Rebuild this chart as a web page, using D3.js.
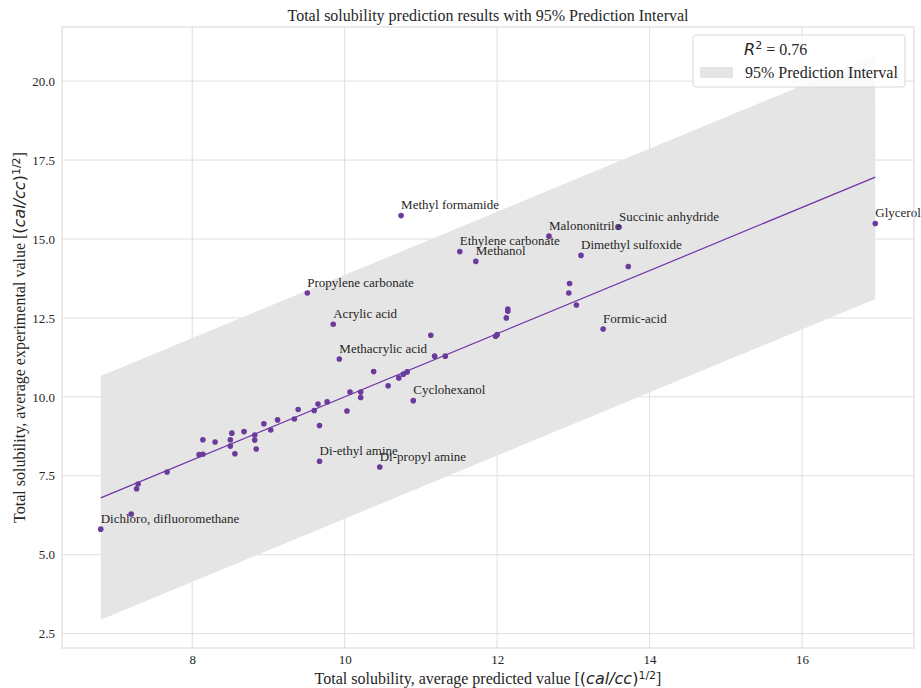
<!DOCTYPE html>
<html>
<head>
<meta charset="utf-8">
<script src="https://cdn.jsdelivr.net/npm/d3@7"></script>
<style>
  html, body { margin: 0; padding: 0; background: #fff; }
  svg { display: block; }
  .serif { font-family: "Liberation Serif", "Times New Roman", serif; fill: #262626; }
  .math { font-family: "DejaVu Sans", sans-serif; }
</style>
</head>
<body>
<svg id="chart" width="921" height="688"></svg>
<script>
// Average predicted total solubility [(cal/cc)^1/2] per compound
const predicted = [
  10.74, 11.51, 11.72, 9.51, 9.85, 9.93, 11.13, 11.18, 11.32, 10.38,
  10.71, 10.77, 10.82, 10.57, 10.07, 10.21, 10.21, 10.90, 10.03, 9.77,
  9.65, 9.60, 9.39, 9.34, 9.67, 9.12, 8.94, 9.03, 8.68, 8.52,
  8.82, 8.14, 8.30, 8.50, 8.82, 8.84, 8.50, 8.56, 8.09, 8.14,
  7.67, 7.29, 7.27, 7.20, 6.80, 9.67, 10.46, 12.68, 13.60, 13.10,
  13.72, 12.95, 12.94, 13.04, 12.14, 12.14, 12.12, 12.00, 11.98, 13.39,
  16.96
];
// Average experimental total solubility [(cal/cc)^1/2]
const experimental = [
  15.74, 14.60, 14.29, 13.29, 12.30, 11.20, 11.95, 11.29, 11.29, 10.80,
  10.60, 10.72, 10.79, 10.35, 10.15, 10.15, 9.98, 9.88, 9.55, 9.84,
  9.77, 9.57, 9.60, 9.30, 9.09, 9.27, 9.15, 8.95, 8.90, 8.85,
  8.79, 8.64, 8.57, 8.64, 8.63, 8.35, 8.44, 8.20, 8.17, 8.18,
  7.62, 7.24, 7.09, 6.29, 5.81, 7.96, 7.78, 15.09, 15.38, 14.48,
  14.13, 13.59, 13.29, 12.91, 12.78, 12.71, 12.50, 11.97, 11.92, 12.15,
  15.49
];
// Compound names shown next to their points ("" = not annotated)
const compoundLabels = [
  "Methyl formamide", "Ethylene carbonate", "Methanol", "Propylene carbonate", "Acrylic acid", "Methacrylic acid", "", "", "", "",
  "", "", "", "", "", "", "", "Cyclohexanol", "", "",
  "", "", "", "", "", "", "", "", "", "",
  "", "", "", "", "", "", "", "", "", "",
  "", "", "", "", "Dichloro, difluoromethane", "Di-ethyl amine", "Di-propyl amine", "Malononitrile", "Succinic anhydride", "Dimethyl sulfoxide",
  "", "", "", "", "", "", "", "", "", "Formic-acid",
  "Glycerol"
];

// Fitted line and half-width of the 95% prediction interval
const fitSlope = [1.0];
const fitIntercept = [0.0];
const intervalHalfWidth = [3.86];
const rSquared = [0.76];

const xTicks = [8, 10, 12, 14, 16];
const yTicks = [2.5, 5.0, 7.5, 10.0, 12.5, 15.0, 17.5, 20.0];

const svg = d3.select("#chart");
const plot = { left: 62, right: 914, top: 27, bottom: 648 };

const purple = "#6a3a9c";
const bandColor = "#e5e5e5";
const gridColor = "#dedede";

// Band polygon spans the predicted range
const xMin = d3.min(predicted), xMax = d3.max(predicted);
const fit = x => fitSlope[0] * x + fitIntercept[0];
const band = [
  { x: xMin, lo: fit(xMin) - intervalHalfWidth[0], hi: fit(xMin) + intervalHalfWidth[0] },
  { x: xMax, lo: fit(xMax) - intervalHalfWidth[0], hi: fit(xMax) + intervalHalfWidth[0] }
];

// 5% padding around the drawn data, like the plotting defaults
const ys = [band[0].lo, band[1].hi, ...experimental];
const xPad = (xMax - xMin) * 0.05;
const yLo = d3.min(ys), yHi = d3.max(ys), yPad = (yHi - yLo) * 0.05;

const x = d3.scaleLinear().domain([xMin - xPad, xMax + xPad]).range([plot.left, plot.right]);
const y = d3.scaleLinear().domain([yLo - yPad, yHi + yPad]).range([plot.bottom, plot.top]);

// Grid
const grid = svg.append("g");
grid.selectAll("line.gx").data(xTicks).join("line")
  .attr("x1", d => x(d)).attr("x2", d => x(d))
  .attr("y1", plot.top).attr("y2", plot.bottom)
  .attr("stroke", gridColor).attr("stroke-width", 1);
grid.selectAll("line.gy").data(yTicks).join("line")
  .attr("x1", plot.left).attr("x2", plot.right)
  .attr("y1", d => y(d)).attr("y2", d => y(d))
  .attr("stroke", gridColor).attr("stroke-width", 1);

// Prediction interval
const area = d3.area().x(d => x(d.x)).y0(d => y(d.lo)).y1(d => y(d.hi));
svg.append("path").datum(band).attr("d", area).attr("fill", bandColor);

// Fit line
svg.append("line")
  .attr("x1", x(xMin)).attr("y1", y(fit(xMin)))
  .attr("x2", x(xMax)).attr("y2", y(fit(xMax)))
  .attr("stroke", "#7034a8").attr("stroke-width", 1.2);

// Points
const data = predicted.map((p, i) => ({ p, e: experimental[i], name: compoundLabels[i] }));
svg.append("g").selectAll("circle").data(data).join("circle")
  .attr("cx", d => x(d.p)).attr("cy", d => y(d.e)).attr("r", 2.8)
  .attr("fill", purple);

// Annotations
svg.append("g").selectAll("text").data(data.filter(d => d.name)).join("text")
  .attr("class", "serif")
  .attr("x", d => x(d.p)).attr("y", d => y(d.e + 0.2))
  .attr("font-size", 13)
  .text(d => d.name);

// Frame
svg.append("rect")
  .attr("x", plot.left).attr("y", plot.top)
  .attr("width", plot.right - plot.left).attr("height", plot.bottom - plot.top)
  .attr("fill", "none").attr("stroke", "#d6d6d6").attr("stroke-width", 1);

// Axes (labels only, no tick marks)
const xAxis = svg.append("g").attr("transform", `translate(0,${plot.bottom})`)
  .call(d3.axisBottom(x).tickValues(xTicks).tickSize(0).tickPadding(7).tickFormat(d3.format("d")));
const yAxis = svg.append("g").attr("transform", `translate(${plot.left},0)`)
  .call(d3.axisLeft(y).tickValues(yTicks).tickSize(0).tickPadding(7).tickFormat(d3.format(".1f")));
[xAxis, yAxis].forEach(a => {
  a.select(".domain").remove();
  a.selectAll("text").attr("class", "serif").attr("font-size", 13).attr("fill", "#262626");
});

// Title
svg.append("text").attr("class", "serif")
  .attr("x", (plot.left + plot.right) / 2).attr("y", 21)
  .attr("text-anchor", "middle").attr("font-size", 16)
  .text("Total solubility prediction results with 95% Prediction Interval");

// Axis title with the (cal/cc)^1/2 unit set in math type
function unitLabel(sel, prefix) {
  sel.append("tspan").text(prefix + " [");
  sel.append("tspan").attr("class", "math").text("(");
  sel.append("tspan").attr("class", "math").attr("font-style", "italic").text("cal/cc");
  sel.append("tspan").attr("class", "math").text(")");
  sel.append("tspan").attr("class", "math").attr("font-size", 11).attr("dy", -5).text("1/2");
  sel.append("tspan").attr("dy", 5).text("]");
}
svg.append("text").attr("class", "serif")
  .attr("x", (plot.left + plot.right) / 2).attr("y", 684)
  .attr("text-anchor", "middle").attr("font-size", 16)
  .call(unitLabel, "Total solubility, average predicted value");
svg.append("text").attr("class", "serif")
  .attr("transform", `translate(25,${(plot.top + plot.bottom) / 2}) rotate(-90)`)
  .attr("text-anchor", "middle").attr("font-size", 16)
  .call(unitLabel, "Total solubility, average experimental value");

// Legend
const lg = svg.append("g");
lg.append("rect").attr("x", 693).attr("y", 35).attr("width", 212).attr("height", 52)
  .attr("rx", 3).attr("fill", "rgba(255,255,255,0.8)").attr("stroke", "#d8d8d8");
const r2 = lg.append("text").attr("class", "serif").attr("x", 744).attr("y", 55).attr("font-size", 16);
r2.append("tspan").attr("class", "math").attr("font-style", "italic").text("R");
r2.append("tspan").attr("class", "math").attr("font-size", 11).attr("dy", -6).text("2");
r2.append("tspan").attr("dy", 6).text(" = " + rSquared[0].toFixed(2));
lg.append("rect").attr("x", 700).attr("y", 67).attr("width", 33).attr("height", 11).attr("fill", bandColor);
lg.append("text").attr("class", "serif").attr("x", 745).attr("y", 78).attr("font-size", 16)
  .text("95% Prediction Interval");
</script>
</body>
</html>
